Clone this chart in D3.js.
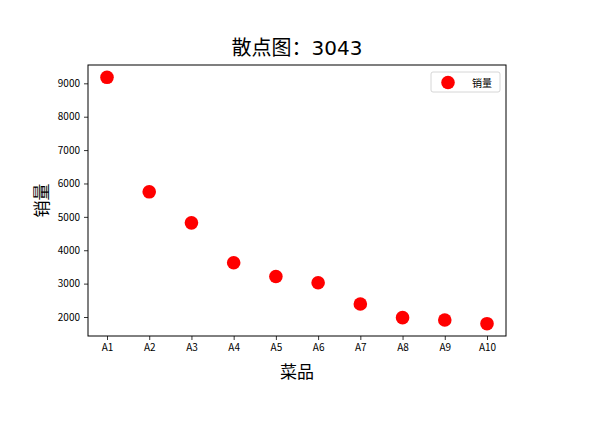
<!DOCTYPE html>
<html>
<head>
<meta charset="utf-8">
<script src="https://cdn.jsdelivr.net/npm/d3@7"></script>
<style>
  body { margin: 0; background: #fff; }
  text { font-family: "Noto Sans CJK SC", "DejaVu Sans", sans-serif; }
</style>
</head>
<body>
<script>
// data
var dishes = ["A1", "A2", "A3", "A4", "A5", "A6", "A7", "A8", "A9", "A10"];
var sales = [9180, 5750, 4820, 3625, 3215, 3025, 2390, 1980, 1910, 1800];
var yTicks = [2000, 3000, 4000, 5000, 6000, 7000, 8000, 9000];
var seriesName = "销量";

var W = 606, H = 439;
var margin = {top: 65, right: 100, bottom: 103, left: 88};
var width = W - margin.left - margin.right;
var height = H - margin.top - margin.bottom;

var svg = d3.select("body")
  .append("svg")
    .attr("width", W)
    .attr("height", H);

var g = svg.append("g")
  .attr("transform", "translate(" + margin.left + "," + margin.top + ")");

// matplotlib-style 5% padding
var xPad = (dishes.length - 1) * 0.05;
var x = d3.scaleLinear()
  .domain([-xPad, dishes.length - 1 + xPad])
  .range([0, width]);

var ext = d3.extent(sales);
var yPad = (ext[1] - ext[0]) * 0.05;
var y = d3.scaleLinear()
  .domain([ext[0] - yPad, ext[1] + yPad])
  .range([height, 0]);

var xAxis = g.append("g")
  .attr("transform", "translate(0," + height + ")")
  .call(d3.axisBottom(x)
    .tickValues(d3.range(dishes.length))
    .tickFormat(function(i) { return dishes[i]; })
    .tickSize(4).tickSizeOuter(0).tickPadding(4));

var yAxis = g.append("g")
  .call(d3.axisLeft(y)
    .tickValues(yTicks)
    .tickFormat(d3.format("d"))
    .tickSize(4).tickSizeOuter(0).tickPadding(4));

[xAxis, yAxis].forEach(function(a) {
  a.select(".domain").remove();
  a.selectAll("line").attr("stroke", "#000").attr("stroke-width", 0.8);
  a.selectAll("text").attr("fill", "#000").style("font-size", "10px");
});

// frame
g.append("rect")
  .attr("width", width)
  .attr("height", height)
  .attr("fill", "none")
  .attr("stroke", "#000")
  .attr("stroke-width", 1);

g.selectAll("circle.pt")
  .data(sales)
  .enter()
  .append("circle")
    .attr("class", "pt")
    .attr("cx", function(d, i) { return x(i); })
    .attr("cy", function(d) { return y(d); })
    .attr("r", 6.8)
    .attr("fill", "#ff0000");

// title and labels
svg.append("text")
  .attr("x", margin.left + width / 2)
  .attr("y", 55)
  .attr("text-anchor", "middle")
  .style("font-size", "20px")
  .style("font-family", "'DejaVu Sans', 'Noto Sans CJK SC', sans-serif")
  .text("散点图：3043");

svg.append("text")
  .attr("x", margin.left + width / 2)
  .attr("y", 378)
  .attr("text-anchor", "middle")
  .style("font-size", "17px")
  .text("菜品");

svg.append("text")
  .attr("transform", "translate(48," + (margin.top + height / 2) + ") rotate(-90)")
  .attr("text-anchor", "middle")
  .style("font-size", "17px")
  .text("销量");

// legend
var lg = svg.append("g").attr("transform", "translate(431,72)");
lg.append("rect")
  .attr("width", 69)
  .attr("height", 20)
  .attr("rx", 2)
  .attr("fill", "#fff")
  .attr("stroke", "#ccc")
  .attr("stroke-width", 0.8);
lg.append("circle")
  .attr("cx", 17)
  .attr("cy", 10.5)
  .attr("r", 6.8)
  .attr("fill", "#ff0000");
lg.append("text")
  .attr("x", 41)
  .attr("y", 14.5)
  .style("font-size", "10px")
  .text(seriesName);
</script>
</body>
</html>
